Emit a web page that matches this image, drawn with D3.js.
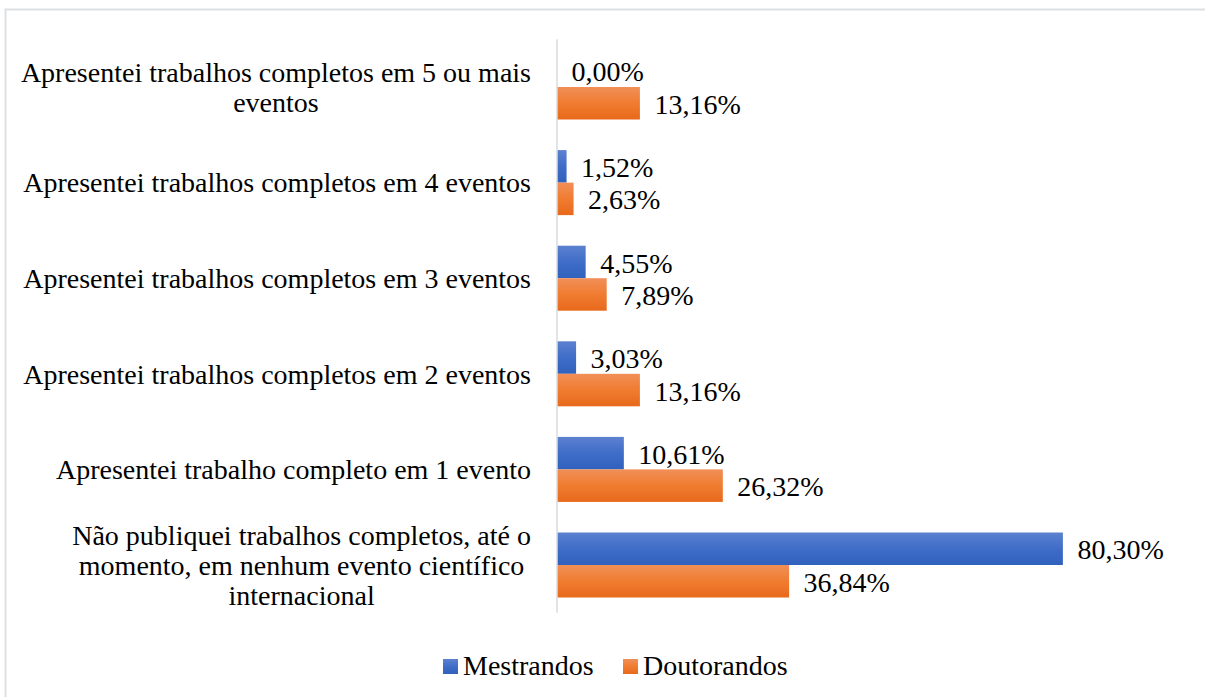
<!DOCTYPE html>
<html>
<head>
<meta charset="utf-8">
<script src="https://d3js.org/d3.v7.min.js"></script>
<style>
  body { margin: 0; background: #fff; }
</style>
</head>
<body>
<div id="chart"></div>
<script>
const width = 1205, height = 697;

// categories top -> bottom, "\n" marks a line break
const categories = [
    "Apresentei trabalhos completos em 5 ou mais\neventos",
    "Apresentei trabalhos completos em 4 eventos",
    "Apresentei trabalhos completos em 3 eventos",
    "Apresentei trabalhos completos em 2 eventos",
    "Apresentei trabalho completo em 1 evento",
    "Não publiquei trabalhos completos, até o\nmomento, em nenhum evento científico\ninternacional"
];
const seriesNames = ["Mestrandos", "Doutorandos"];
const mestrandos = [0.00, 1.52, 4.55, 3.03, 10.61, 80.30];
const doutorandos = [13.16, 2.63, 7.89, 13.16, 26.32, 36.84];
const valueFormat = v => v.toFixed(2).replace(".", ",") + "%";

const fontSize = 28;
const fontFamily = "'Liberation Serif'";

const svg = d3.select("#chart")
    .append("svg")
    .attr("width", width)
    .attr("height", height);

// gradients like the office bar fill
const defs = svg.append("defs");
const grads = [
    { id: "gradBlue", stops: ["#5c81d0", "#3f6dc8", "#2f61bd"] },
    { id: "gradOrange", stops: ["#f18f58", "#f07c30", "#e8691b"] }
];
grads.forEach(function (g) {
    const lg = defs.append("linearGradient")
        .attr("id", g.id)
        .attr("x1", 0).attr("y1", 0)
        .attr("x2", 0).attr("y2", 1);
    g.stops.forEach(function (c, i) {
        lg.append("stop")
            .attr("offset", (i * 50) + "%")
            .attr("stop-color", c);
    });
});
const fills = ["url(#gradBlue)", "url(#gradOrange)"];

// chart border
svg.append("rect")
    .attr("x", 5.5).attr("y", 9.5)
    .attr("width", 1220).attr("height", 720)
    .attr("fill", "none")
    .attr("stroke", "#dcdfe4")
    .attr("stroke-width", 2);

const x = d3.scaleLinear()
    .domain([0, 90])
    .range([557, 1124]);

const y = d3.scaleBand()
    .domain(categories)
    .range([39.2, 612.8])
    .paddingInner(0.32)
    .paddingOuter(0.16);

const ySub = d3.scaleBand()
    .domain(seriesNames)
    .range([0, y.bandwidth()]);

const rows = categories.map(function (c, i) {
    return { cat: c, values: [mestrandos[i], doutorandos[i]] };
});

// bars
const groups = svg.append("g")
    .selectAll("g")
    .data(rows)
    .enter().append("g")
    .attr("transform", d => "translate(0," + y(d.cat) + ")");

groups.selectAll("rect")
    .data(d => d.values.map((v, j) => ({ v: v, s: seriesNames[j], j: j })))
    .enter().append("rect")
    .attr("x", x(0))
    .attr("y", d => ySub(d.s))
    .attr("width", d => x(d.v) - x(0))
    .attr("height", ySub.bandwidth())
    .attr("fill", d => fills[d.j]);

groups.selectAll("text.val")
    .data(d => d.values.map((v, j) => ({ v: v, s: seriesNames[j] })))
    .enter().append("text")
    .attr("class", "val")
    .attr("x", d => x(d.v) + 14.5)
    .attr("y", d => ySub(d.s) + ySub.bandwidth() / 2)
    .attr("dy", "0.38em")
    .attr("font-family", fontFamily)
    .attr("font-size", fontSize)
    .attr("fill", "#000")
    .text(d => valueFormat(d.v));

// vertical axis line
svg.append("line")
    .attr("x1", x(0)).attr("x2", x(0))
    .attr("y1", y.range()[0]).attr("y2", y.range()[1])
    .attr("stroke", "#d9dce1")
    .attr("stroke-width", 1.5);

// category labels, block right aligned, lines centred
const lineHeight = 30;
categories.forEach(function (c) {
    const lines = c.split("\n");
    const t = svg.append("text")
        .attr("text-anchor", "middle")
        .attr("font-family", fontFamily)
        .attr("font-size", fontSize)
        .attr("fill", "#000");
    const cy = y(c) + y.bandwidth() / 2;
    const top = cy - (lines.length - 1) * lineHeight / 2;
    const spans = lines.map(function (l, i) {
        return t.append("tspan")
            .attr("y", top + i * lineHeight)
            .attr("dy", "0.35em")
            .text(l);
    });
    let maxW = 0;
    spans.forEach(function (s) {
        maxW = Math.max(maxW, s.node().getComputedTextLength());
    });
    spans.forEach(function (s) {
        s.attr("x", 531 - maxW / 2);
    });
});

// legend
const legend = svg.append("g");
const legendX = [443, 623];
seriesNames.forEach(function (s, i) {
    legend.append("rect")
        .attr("x", legendX[i]).attr("y", 659)
        .attr("width", 15).attr("height", 15)
        .attr("fill", fills[i]);
    legend.append("text")
        .attr("x", legendX[i] + 20)
        .attr("y", 675)
        .attr("font-family", fontFamily)
        .attr("font-size", fontSize)
        .attr("fill", "#000")
        .text(s);
});
</script>
</body>
</html>
